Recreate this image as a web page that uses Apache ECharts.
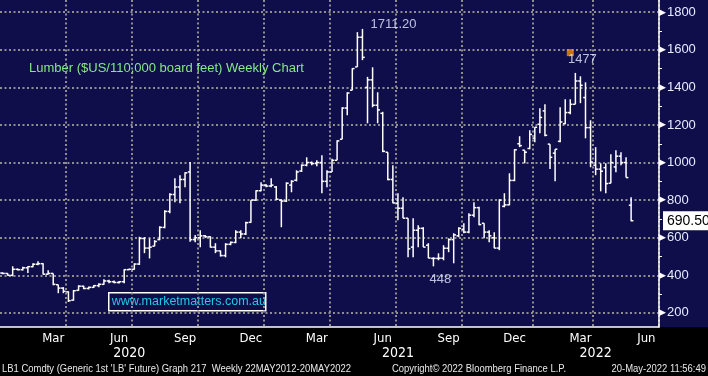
<!DOCTYPE html>
<html>
<head>
<meta charset="utf-8">
<title>Lumber weekly</title>
<script src="https://cdn.jsdelivr.net/npm/echarts@6.0.0/dist/echarts.min.js"></script>
<style>
  html, body { margin: 0; padding: 0; background: #000; }
  #chart {
    width: 708px;
    height: 376px;
    background: linear-gradient(to bottom, #0f0e4a 0, #0f0e4a 327px, #000 327px, #000 100%);
  }
</style>
</head>
<body>
<div id="chart"></div>
<script>
// weekly categories (Fridays), Jan 2020 .. end of Jun 2022
const weeks = []
for (let t = Date.UTC(2020, 0, 3); t <= Date.UTC(2022, 5, 24); t += 7 * 864e5) {
  weeks.push(new Date(t).toISOString().slice(0, 10))
}

// OHLC, one entry per week from 3 Jan 2020 to 20 May 2022
const opens = [
  412, 410, 400, 432, 430, 440, 446, 459, 462, 406, 410, 350, 332, 312, 268, 320, 342, 330, 336, 345,
  352, 370, 366, 362, 366, 430, 432, 460, 596, 545, 555, 590, 655, 740, 830, 870, 910, 950, 590, 600,
  610, 605, 550, 530, 505, 565, 575, 630, 620, 682, 800, 850, 880, 875, 870, 800, 795, 880, 906, 955,
  986, 1000, 995, 1000, 900, 950, 1012, 1124, 1290, 1385, 1509, 1667, 1400, 1440, 1305, 1262, 1055, 910, 783, 757,
  704, 550, 640, 650, 560, 490, 490, 491, 544, 590, 610, 645, 630, 720, 760, 677, 630, 600, 545, 767,
  775, 905, 1100, 1066, 1075, 1130, 1204, 1275, 1098, 1050, 1113, 1207, 1266, 1310, 1434, 1346, 1186, 986, 965, 973,
  890, 977, 1034, 1000, 773
]
const highs = [
  416, 412, 448, 436, 445, 448, 464, 475, 464, 427, 410, 350, 337, 315, 322, 347, 345, 340, 348, 358,
  379, 376, 372, 370, 432, 436, 464, 605, 603, 597, 587, 661, 746, 837, 917, 932, 948, 1003, 614, 640,
  614, 608, 571, 532, 571, 580, 640, 640, 685, 800, 853, 895, 885, 917, 875, 805, 895, 906, 959, 990,
  1028, 1005, 1012, 1039, 959, 1020, 1119, 1294, 1374, 1502, 1694, 1711.2, 1456, 1507, 1374, 1270, 1055, 986, 837, 815,
  704, 704, 666, 656, 571, 496, 517, 560, 597, 624, 656, 677, 730, 789, 765, 677, 640, 629, 805, 837,
  943, 1071, 1140, 1066, 1172, 1188, 1289, 1310, 1098, 1071, 1294, 1337, 1337, 1477, 1459, 1427, 1225, 1082, 996, 996,
  1044, 1066, 1055, 1028, 815
]
const lows = [
  406, 398, 395, 426, 425, 413, 443, 454, 405, 405, 347, 305, 305, 258, 265, 318, 326, 325, 332, 336,
  350, 358, 358, 356, 358, 428, 430, 455, 518, 490, 555, 587, 650, 730, 789, 783, 869, 578, 576, 550,
  600, 548, 518, 500, 496, 560, 571, 597, 615, 680, 795, 848, 869, 869, 800, 656, 790, 842, 900, 950,
  980, 986, 980, 837, 869, 950, 1012, 1124, 1252, 1385, 1509, 1545, 1209, 1294, 1209, 1055, 906, 783, 693, 704,
  496, 496, 550, 550, 491, 448, 480, 480, 523, 464, 603, 624, 624, 709, 666, 597, 576, 544, 534, 762,
  773, 901, 1082, 996, 1071, 1108, 1156, 1140, 966, 901, 1108, 1204, 1257, 1310, 1316, 1129, 975, 933, 847, 837,
  890, 948, 986, 920, 688
]
const closes = [
  410, 400, 432, 430, 440, 446, 459, 462, 406, 410, 352, 332, 315, 265, 318, 342, 330, 336, 345, 352,
  370, 366, 362, 366, 430, 432, 460, 596, 545, 550, 580, 655, 740, 830, 870, 910, 945, 590, 600, 610,
  605, 550, 530, 505, 565, 575, 630, 620, 680, 800, 850, 880, 875, 880, 805, 795, 890, 900, 950, 986,
  1000, 995, 1000, 900, 950, 1012, 1115, 1290, 1370, 1500, 1667, 1560, 1440, 1305, 1280, 1060, 910, 785, 757, 704,
  541, 640, 650, 550, 492, 490, 491, 544, 590, 615, 650, 630, 720, 760, 670, 630, 610, 545, 800, 775,
  905, 1068, 1090, 1055, 1150, 1188, 1240, 1145, 1028, 1071, 1216, 1266, 1310, 1434, 1411, 1186, 1003, 965, 954, 888,
  1000, 1034, 1000, 920, 690.5
]

// labelled extremes and the event marker
const peakLabels = [
  { idx: 71, value: 1711.2, text: '1711.20' },
  { idx: 85, value: 448, text: '448' },
  { idx: 113, value: 1477, text: '1477' }
]
const eventMarks = [[112, 1585]]

const yLabels = [200, 400, 600, 800, 1000, 1200, 1400, 1600, 1800]
const yTicks = [200, 300, 400, 500, 600, 700, 800, 900, 1000, 1100, 1200, 1300, 1400, 1500, 1600, 1700, 1800]

const monthNames = ['Jan', 'Feb', 'Mar', 'Apr', 'May', 'Jun', 'Jul', 'Aug', 'Sep', 'Oct', 'Nov', 'Dec']

const narrow = "'DejaVu Sans Condensed', 'Liberation Sans', sans-serif"
const plain = "'Liberation Sans', Arial, sans-serif"
const dotted = { color: '#8f8f8f', width: 2, type: [2, 2.5] }

function dayOf(i) { return +weeks[i].slice(8, 10) }
function monOf(i) { return +weeks[i].slice(5, 7) }

// middle week of each year's visible span, for the year labels
const yearMid = {}
weeks.forEach((w, i) => {
  const y = w.slice(0, 4)
  if (!yearMid[y]) yearMid[y] = [i, i]
  yearMid[y][1] = i
})
const yearLabelIdx = Object.values(yearMid).map(r => Math.floor((r[0] + r[1]) / 2))

const ohlc = opens.map((o, i) => [i, o, highs[i], lows[i], closes[i]])
const lastClose = closes[closes.length - 1]

function renderOhlc(params, api) {
  const i = api.value(0)
  const x = api.coord([i, 0])[0]
  const yo = api.coord([i, api.value(1)])[1]
  const yh = api.coord([i, api.value(2)])[1]
  const yl = api.coord([i, api.value(3)])[1]
  const yc = api.coord([i, api.value(4)])[1]
  const w = api.size([1, 0])[0] * 0.45
  const style = { stroke: '#ffffff', lineWidth: 1.5 }
  return {
    type: 'group',
    children: [
      { type: 'line', shape: { x1: x, y1: yh, x2: x, y2: yl }, style },
      { type: 'line', shape: { x1: x - w, y1: yo, x2: x, y2: yo }, style },
      { type: 'line', shape: { x1: x, y1: yc, x2: x + w, y2: yc }, style }
    ]
  }
}

const chart = echarts.init(document.getElementById('chart'), null, { renderer: 'canvas' })

const labelPos = {
  '1711.20': { position: 'right', distance: 8, offset: [0, -4] },
  '448': { position: 'inside', offset: [7, 13] },
  '1477': { position: 'inside', offset: [7, -13] }
}

// footer lines are squeezed horizontally like the terminal font
function footer(text, x, align, scale) {
  return {
    type: 'text',
    x: x,
    y: 369,
    scaleX: scale,
    style: {
      text: text,
      fill: '#e8e8e8',
      font: '11px ' + plain,
      textAlign: align,
      textVerticalAlign: 'middle'
    }
  }
}

const option = {
  backgroundColor: 'transparent',
  animation: false,
  title: {
    text: 'Lumber ($US/110,000 board feet) Weekly Chart',
    left: 29,
    top: 62,
    padding: 0,
    textStyle: { color: '#86e886', fontSize: 13, fontWeight: 'normal', fontFamily: plain }
  },
  grid: { left: -1, right: 49, top: 0, bottom: 49, containLabel: false },
  xAxis: [
    {
      type: 'category',
      data: weeks,
      boundaryGap: true,
      position: 'bottom',
      axisLine: { lineStyle: { color: '#ffffff', width: 1.5 } },
      axisTick: {
        interval: (i) => dayOf(i) <= 7,
        length: 4,
        lineStyle: { color: '#ffffff', width: 1 }
      },
      axisLabel: {
        interval: (i) => {
          const d = dayOf(i)
          return d >= 8 && d <= 14 && [3, 6, 9, 12].includes(monOf(i))
        },
        formatter: (v) => monthNames[+v.slice(5, 7) - 1],
        color: '#ffffff',
        fontSize: 13,
        fontFamily: narrow,
        margin: 5
      },
      splitLine: {
        show: true,
        interval: (i) => i > 0 && dayOf(i) <= 7 && [1, 4, 7, 10].includes(monOf(i)),
        lineStyle: dotted
      }
    },
    {
      type: 'category',
      data: weeks,
      boundaryGap: true,
      position: 'bottom',
      offset: 6,
      axisLine: { show: false },
      axisTick: {
        interval: (i) => i > 0 && dayOf(i) <= 7 && monOf(i) === 1,
        length: 27,
        lineStyle: { color: '#9a9a9a', width: 1 }
      },
      axisLabel: {
        interval: (i) => yearLabelIdx.includes(i),
        formatter: (v) => v.slice(0, 4),
        color: '#ffffff',
        fontSize: 14,
        fontFamily: narrow,
        margin: 13
      },
      splitLine: { show: false }
    }
  ],
  yAxis: [
    {
      type: 'value',
      position: 'right',
      min: 125,
      max: 1865,
      axisLine: { show: true, lineStyle: { color: '#ffffff', width: 1.5 } },
      axisTick: { show: true, customValues: yTicks, length: 3, lineStyle: { color: '#ffffff' } },
      axisLabel: {
        customValues: yLabels,
        margin: 0,
        formatter: (v) => '{t|\u25B6}{n|' + v + '}',
        rich: {
          t: { fontSize: 9, color: '#ffffff', fontFamily: "'DejaVu Sans', sans-serif", padding: [0, 1, 0, 0] },
          n: { fontSize: 13, color: '#e6ecff', fontFamily: plain }
        }
      },
      splitLine: { show: false }
    },
    {
      type: 'value',
      position: 'right',
      min: 125,
      max: 1865,
      axisLine: { show: false },
      axisTick: { show: false, customValues: yLabels },
      axisLabel: { show: false, customValues: yLabels },
      splitLine: { show: true, lineStyle: dotted }
    }
  ],
  series: [
    {
      name: 'LB1',
      type: 'custom',
      xAxisIndex: 0,
      yAxisIndex: 0,
      renderItem: renderOhlc,
      encode: { x: 0, y: [1, 2, 3, 4] },
      data: ohlc,
      clip: true,
      z: 3
    },
    {
      name: 'labels',
      type: 'scatter',
      xAxisIndex: 0,
      yAxisIndex: 0,
      symbolSize: 0,
      data: peakLabels.map(p => ({
        value: [p.idx, p.value],
        label: Object.assign({
          show: true,
          formatter: p.text,
          color: '#e4ecff',
          fontSize: 13,
          fontFamily: plain
        }, labelPos[p.text])
      })),
      markLine: {
        silent: true,
        symbol: 'none',
        lineStyle: { color: 'rgba(0,0,0,0)', width: 0 },
        data: [{ yAxis: lastClose }],
        label: {
          show: true,
          position: 'end',
          distance: 4,
          formatter: lastClose.toFixed(2),
          backgroundColor: '#ffffff',
          color: '#000000',
          fontSize: 14,
          fontFamily: plain,
          padding: [3, 5, 2, 4]
        }
      },
      z: 4
    },
    {
      name: 'events',
      type: 'scatter',
      xAxisIndex: 0,
      yAxisIndex: 0,
      symbol: 'rect',
      symbolSize: 7,
      itemStyle: { color: '#f39200' },
      data: eventMarks,
      z: 4
    }
  ],
  graphic: [
    {
      type: 'group',
      left: 108,
      top: 292,
      children: [
        {
          type: 'rect',
          shape: { x: 0, y: 0, width: 157, height: 18 },
          style: { fill: 'transparent', stroke: '#ffffff', lineWidth: 1.5 }
        },
        {
          type: 'text',
          x: 3,
          y: 9,
          style: {
            text: 'www.marketmatters.com.au',
            fill: '#22c8e6',
            font: '12.5px ' + plain,
            textVerticalAlign: 'middle'
          }
        }
      ]
    },
    footer("LB1 Comdty (Generic 1st 'LB' Future) Graph 217  Weekly 22MAY2012-20MAY2022", 2, 'left', 0.86),
    footer('Copyright\u00A9 2022 Bloomberg Finance L.P.', 392, 'left', 0.86),
    footer('20-May-2022 11:56:49', 706, 'right', 0.86)
  ]
}

chart.setOption(option)
</script>
</body>
</html>
